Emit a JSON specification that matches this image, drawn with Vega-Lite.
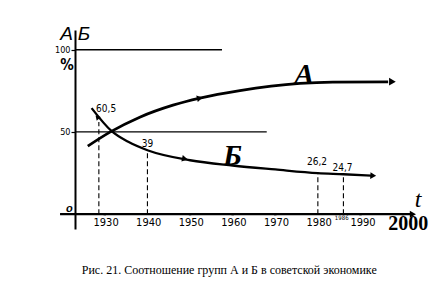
{
  "$schema": "https://vega.github.io/schema/vega-lite/v6.json",
  "width": 340,
  "height": 199,
  "autosize": {"type": "none"},
  "padding": {"left": 75, "top": 30, "right": 31, "bottom": 60},
  "background": "white",
  "config": {"view": {"stroke": null}},
  "datasets": {
    "A": [
      {"x": 1926, "y": 41.4}, {"x": 1931.2, "y": 49.9}, {"x": 1938.2, "y": 59},
      {"x": 1946, "y": 66.3}, {"x": 1952.3, "y": 70.6}, {"x": 1961.7, "y": 75.2},
      {"x": 1975.8, "y": 79.5}, {"x": 1983.5, "y": 80.3}, {"x": 1996.5, "y": 80.5}
    ],
    "B": [
      {"x": 1926.9, "y": 64.5}, {"x": 1931.6, "y": 50.5}, {"x": 1935.5, "y": 44},
      {"x": 1940, "y": 38.9}, {"x": 1950, "y": 32.8}, {"x": 1960, "y": 29.6},
      {"x": 1970, "y": 27.2}, {"x": 1980, "y": 25}, {"x": 1986, "y": 24.3},
      {"x": 1992.5, "y": 23.4}
    ],
    "solid": [
      {"x": 1919.5, "x2": 2002, "y": 0, "y2": 0},
      {"x": 1923, "x2": 1957.5, "y": 100, "y2": 100},
      {"x": 1923, "x2": 1968, "y": 50, "y2": 50}
    ],
    "dashed": [
      {"x": 1928.6, "x2": 1928.6, "y": 0, "y2": 56},
      {"x": 1940, "x2": 1940, "y": 0, "y2": 39},
      {"x": 1980, "x2": 1980, "y": 0, "y2": 25},
      {"x": 1986, "x2": 1986, "y": 0, "y2": 24.3}
    ],
    "ticks": [
      {"x": 1930, "y": 0}, {"x": 1950, "y": 0}, {"x": 1960, "y": 0},
      {"x": 1970, "y": 0}, {"x": 1990, "y": 0}, {"x": 2000, "y": 0}
    ],
    "xlabels": [
      {"x": 1930.3, "y": -5.5, "t": "1930"}, {"x": 1940.3, "y": -5.5, "t": "1940"},
      {"x": 1950.3, "y": -5.5, "t": "1950"}, {"x": 1960.3, "y": -5.5, "t": "1960"},
      {"x": 1970.3, "y": -5.5, "t": "1970"}, {"x": 1980.3, "y": -5.5, "t": "1980"},
      {"x": 1990.6, "y": -5.5, "t": "1990"}
    ],
    "vals": [
      {"x": 1930.3, "y": 63.9, "t": "60,5"}, {"x": 1940, "y": 42.9, "t": "39"},
      {"x": 1979.8, "y": 31.6, "t": "26,2"}, {"x": 1985.8, "y": 28.3, "t": "24,7"}
    ]
  },
  "encoding": {
    "x": {"field": "x", "type": "quantitative", "scale": {"domain": [1923, 2002.8], "nice": false, "zero": false}, "axis": null},
    "y": {"field": "y", "type": "quantitative", "scale": {"domain": [-9, 112], "nice": false, "zero": false},
      "axis": {"values": [50, 100], "title": null, "grid": false, "domainColor": "black", "domainWidth": 2,
        "tickColor": "black", "tickSize": 4, "tickWidth": 1.2, "labelColor": "black",
        "labelFont": "Liberation Sans Narrow, DejaVu Sans Condensed, sans-serif", "labelFontSize": 9, "labelPadding": 1}}
  },
  "layer": [
    {"data": {"name": "solid"}, "mark": {"type": "rule", "color": "black", "strokeWidth": 1.3},
      "encoding": {"x2": {"field": "x2"}, "y2": {"field": "y2"}}},
    {"data": {"name": "solid"}, "transform": [{"filter": "datum.y == 0"}], "mark": {"type": "rule", "color": "black", "strokeWidth": 2.2},
      "encoding": {"x2": {"field": "x2"}, "y2": {"field": "y2"}}},
    {"data": {"name": "dashed"}, "mark": {"type": "rule", "color": "black", "strokeWidth": 1.1, "strokeDash": [5, 3]},
      "encoding": {"x2": {"field": "x2"}, "y2": {"field": "y2"}}},
    {"data": {"name": "ticks"}, "mark": {"type": "point", "shape": "square", "filled": true, "color": "black", "size": 6}},
    {"data": {"name": "A"}, "mark": {"type": "line", "color": "black", "strokeWidth": 2.8, "interpolate": "monotone"}},
    {"data": {"name": "B"}, "mark": {"type": "line", "color": "black", "strokeWidth": 2.3, "interpolate": "monotone"}},
    {"data": {"values": [{"x": 1952.3, "y": 70.6}]}, "mark": {"type": "point", "shape": "triangle-right", "filled": true, "color": "black", "size": 45, "angle": 347, "opacity": 1}},
    {"data": {"values": [{"x": 1997.5, "y": 80.6}]}, "mark": {"type": "point", "shape": "triangle-right", "filled": true, "color": "black", "size": 60, "angle": 0, "opacity": 1}},
    {"data": {"values": [{"x": 1948.8, "y": 33.6}]}, "mark": {"type": "point", "shape": "triangle-right", "filled": true, "color": "black", "size": 45, "angle": 12, "opacity": 1}},
    {"data": {"values": [{"x": 1993, "y": 23.4}]}, "mark": {"type": "point", "shape": "triangle-right", "filled": true, "color": "black", "size": 45, "angle": 3, "opacity": 1}},
    {"data": {"values": [{"x": 1928.2, "y": 59}]}, "mark": {"type": "point", "shape": "triangle-right", "filled": true, "color": "black", "size": 30, "angle": 228, "opacity": 1}},
    {"data": {"values": [{"x": 2002.3, "y": 0}]}, "mark": {"type": "point", "shape": "triangle-right", "filled": true, "color": "black", "size": 50, "angle": 0, "opacity": 1}},
    {"data": {"name": "xlabels"}, "mark": {"type": "text", "color": "black", "font": "Liberation Sans Narrow, DejaVu Sans Condensed, sans-serif", "fontSize": 11, "baseline": "middle", "align": "center"},
      "encoding": {"text": {"field": "t"}}},
    {"data": {"values": [{"x": 1985.6, "y": -2.3, "t": "1986"}]}, "mark": {"type": "text", "color": "black", "font": "Liberation Sans Narrow, DejaVu Sans Condensed, sans-serif", "fontSize": 6, "baseline": "middle", "align": "center"},
      "encoding": {"text": {"field": "t"}}},
    {"data": {"name": "vals"}, "mark": {"type": "text", "color": "black", "font": "Liberation Sans Narrow, DejaVu Sans Condensed, sans-serif", "fontSize": 10, "baseline": "middle", "align": "center"},
      "encoding": {"text": {"field": "t"}}},
    {"data": {"values": [{"x": 1976.8, "y": 86, "t": "А"}, {"x": 1960, "y": 36.5, "t": "Б"}]}, "mark": {"type": "text", "color": "black", "font": "Liberation Serif", "fontSize": 30, "fontWeight": "bold", "fontStyle": "italic", "baseline": "middle", "align": "center", "dy": 2},
      "encoding": {"text": {"field": "t"}}},
    {"data": {"values": [{"x": 1921, "y": 110, "t": "А"}, {"x": 1925.1, "y": 110, "t": "Б"}]}, "mark": {"type": "text", "color": "black", "font": "Liberation Sans", "fontSize": 19, "fontStyle": "italic", "baseline": "middle", "align": "center", "dy": 1},
      "encoding": {"text": {"field": "t"}}},
    {"data": {"values": [{"x": 1921.1, "y": 90.6, "t": "%"}]}, "mark": {"type": "text", "color": "black", "font": "Liberation Sans Narrow, DejaVu Sans Condensed, sans-serif", "fontSize": 15, "fontWeight": "bold", "baseline": "middle", "align": "center"},
      "encoding": {"text": {"field": "t"}}},
    {"data": {"values": [{"x": 1921.7, "y": 3.3, "t": "o"}]}, "mark": {"type": "text", "color": "black", "font": "Liberation Sans", "fontSize": 11, "fontStyle": "italic", "fontWeight": "bold", "baseline": "middle", "align": "center"},
      "encoding": {"text": {"field": "t"}}},
    {"data": {"values": [{"x": 2003.5, "y": 8.5, "t": "t"}]}, "mark": {"type": "text", "color": "black", "font": "Liberation Serif", "fontSize": 24, "fontStyle": "italic", "baseline": "middle", "align": "center"},
      "encoding": {"text": {"field": "t"}}},
    {"data": {"values": [{"x": 2001.2, "y": -5.5, "t": "2000"}]}, "mark": {"type": "text", "color": "black", "font": "Liberation Serif", "fontSize": 20, "fontWeight": "bold", "baseline": "middle", "align": "center", "dy": 1},
      "encoding": {"text": {"field": "t"}}},
    {"data": {"values": [{"x": 1959.2, "y": -34, "t": "Рис. 21. Соотношение групп А и Б в советской экономике"}]}, "mark": {"type": "text", "color": "black", "font": "Liberation Serif", "fontSize": 12, "baseline": "middle", "align": "center"},
      "encoding": {"text": {"field": "t"}}}
  ]
}
